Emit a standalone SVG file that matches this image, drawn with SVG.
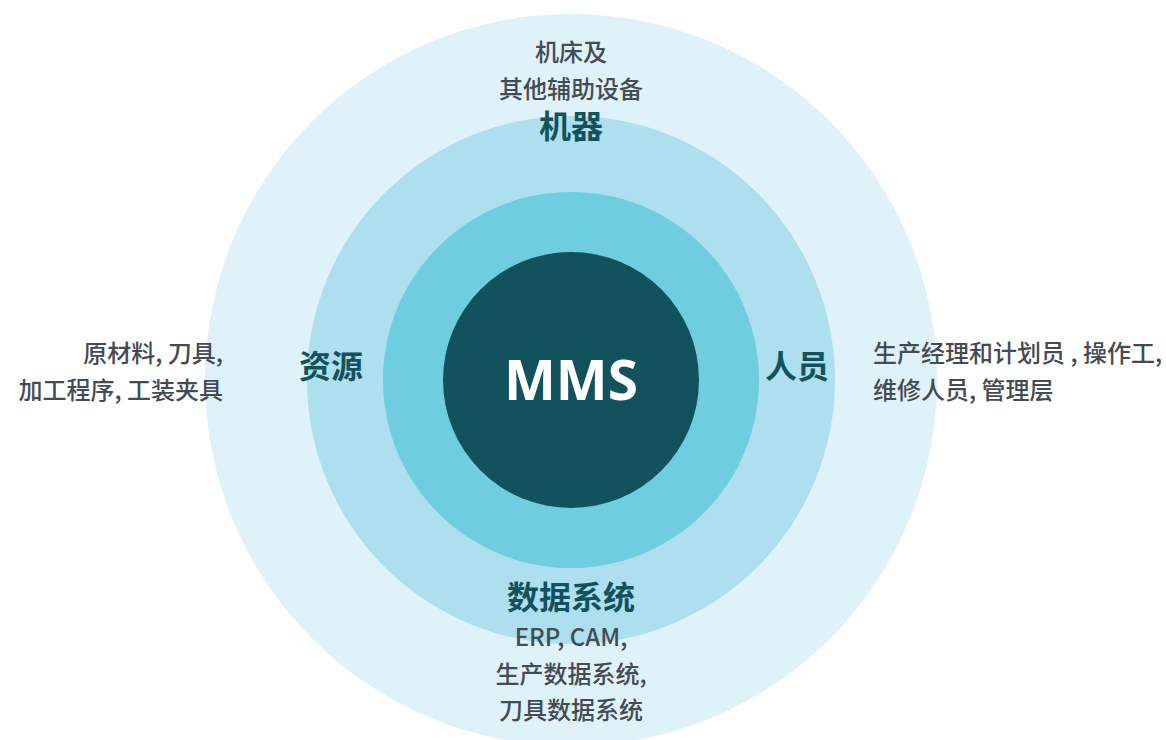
<svg xmlns="http://www.w3.org/2000/svg" width="1166" height="740" viewBox="0 0 1166 740">
<style>
.desc{font-family:"Noto Sans CJK SC","Noto Sans",sans-serif;font-size:24px;font-weight:500;fill:#434b53}
.lbl{font-family:"Noto Sans CJK SC","Noto Sans",sans-serif;font-size:32px;font-weight:700;fill:#12525c}
.mms{font-family:"Noto Sans","Noto Sans CJK SC",sans-serif;font-size:55px;font-weight:700;fill:#ffffff}
</style>
<rect width="1166" height="740" fill="#ffffff"/>
<g id="ring-outer"><circle cx="571" cy="380" r="366" fill="#e0f2f9"/></g>
<g id="ring-middle"><circle cx="571" cy="380" r="264" fill="#addfee"/></g>
<g id="ring-inner"><circle cx="571" cy="380" r="188" fill="#6fcde0"/></g>
<g id="core"><circle cx="571" cy="380" r="128" fill="#12525c"/><text class="mms" x="571" y="400" text-anchor="middle">MMS</text></g>
<g id="connectors"></g>
<g id="machines">
<text class="desc" x="571" y="61" text-anchor="middle">机床及</text>
<text class="desc" x="571" y="98" text-anchor="middle">其他辅助设备</text>
<text class="lbl" x="571" y="138" text-anchor="middle">机器</text>
</g>
<g id="resources">
<text class="lbl" x="331" y="378" text-anchor="middle">资源</text>
<text class="desc" x="223" y="362" text-anchor="end">原材料, 刀具,</text>
<text class="desc" x="223" y="399" text-anchor="end">加工程序, 工装夹具</text>
</g>
<g id="people">
<text class="lbl" x="797" y="378" text-anchor="middle">人员</text>
<text class="desc" x="873" y="362">生产经理和计划员 , 操作工,</text>
<text class="desc" x="873" y="399">维修人员, 管理层</text>
</g>
<g id="data">
<text class="lbl" x="571" y="609" text-anchor="middle">数据系统</text>
<text class="desc" x="571" y="646" text-anchor="middle">ERP, CAM,</text>
<text class="desc" x="571" y="683" text-anchor="middle">生产数据系统,</text>
<text class="desc" x="571" y="719" text-anchor="middle">刀具数据系统</text>
</g>
</svg>
